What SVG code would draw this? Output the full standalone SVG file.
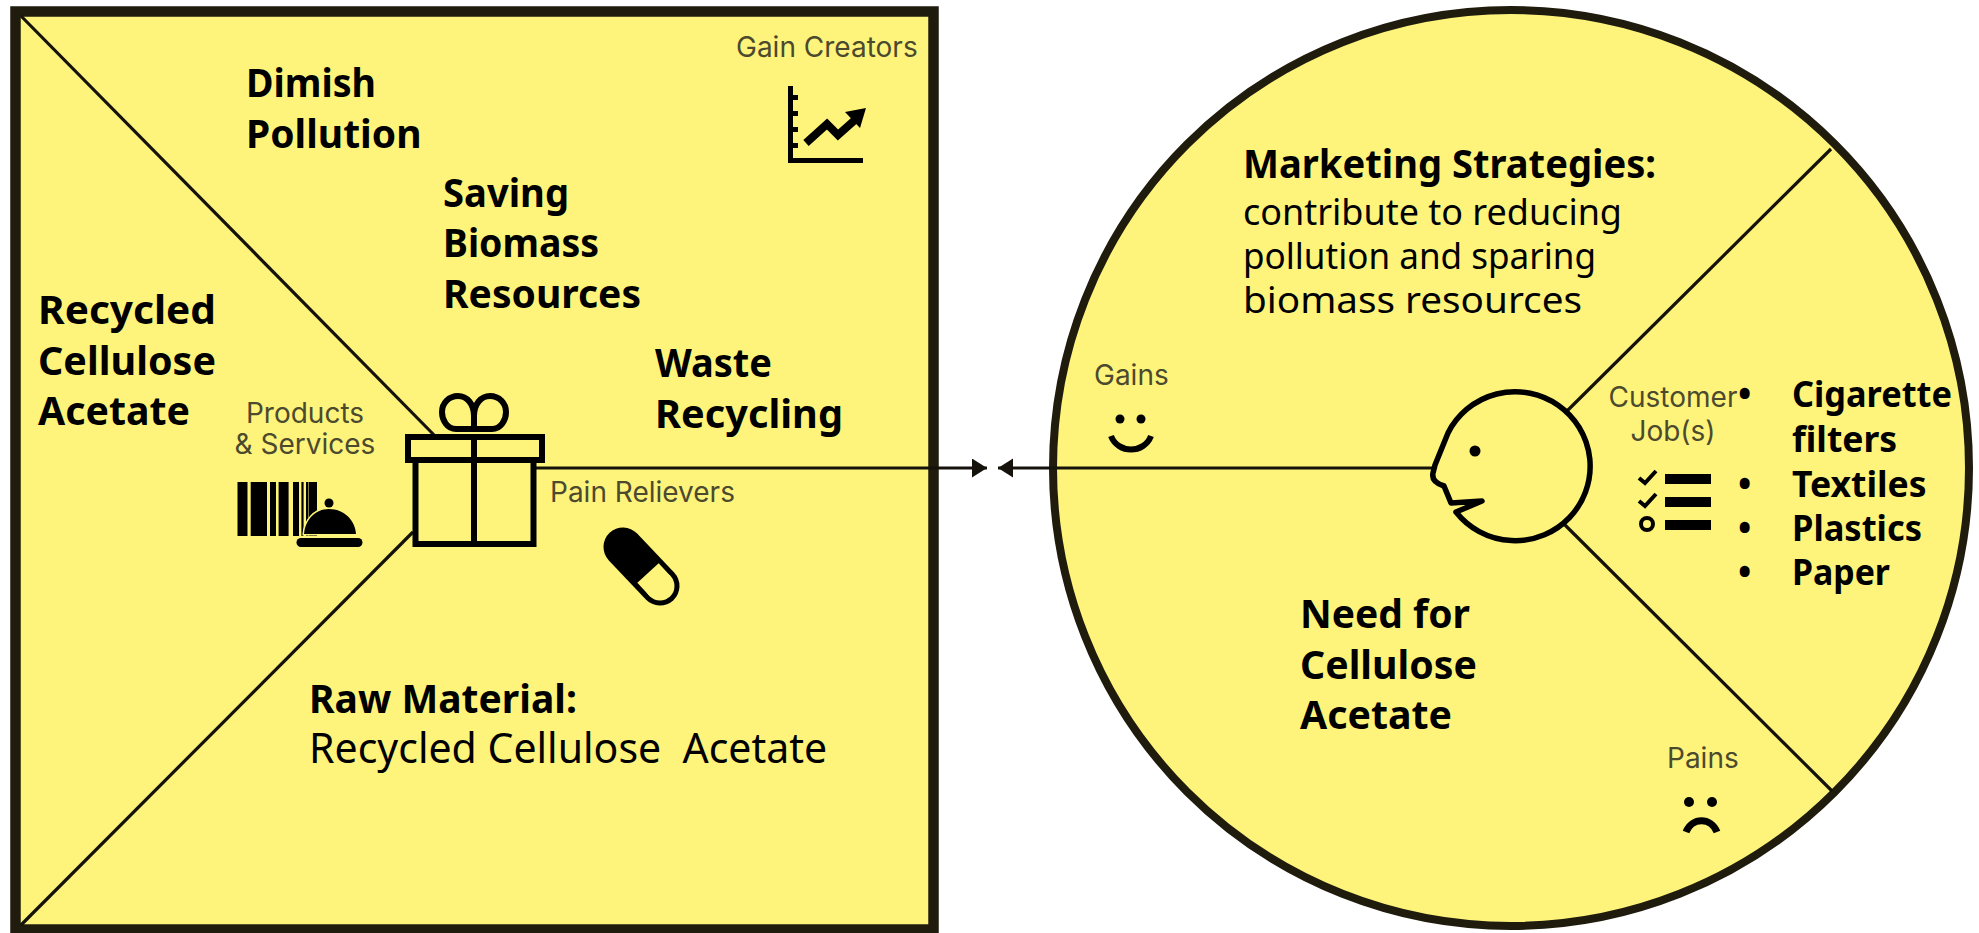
<svg xmlns="http://www.w3.org/2000/svg" width="1979" height="933" viewBox="0 0 1979 933">
<style>
.b{font:700 39px "Noto Sans","Liberation Sans",sans-serif;fill:#000}
.s{font:700 35.500px "Noto Sans","Liberation Sans",sans-serif;fill:#000}
.r{font:400 36px "Noto Sans","Liberation Sans",sans-serif;fill:#000}
.q{font:400 41px "Noto Sans","Liberation Sans",sans-serif;fill:#000}
.l{font:400 28px "Inter","Noto Sans",sans-serif;fill:#4c4a2e}
.m{text-anchor:middle}
.ln{fill:none;stroke:#14120a;stroke-width:3.200}
.ic{fill:none;stroke:#000;stroke-width:6}
.k{fill:#000}
</style>
<defs>
<marker id="ah" markerUnits="userSpaceOnUse" markerWidth="16" markerHeight="20" refX="15" refY="9.500" orient="auto"><path d="M0 0L15 9.500L0 19Z" fill="#14120a"/></marker>
</defs>
<rect width="1979" height="933" fill="#fff"/>
<g id="value-map">
<rect x="15.500" y="11.500" width="918" height="918" fill="#fef47b" stroke="#1f1c0e" stroke-width="10.500"/>
</g>
<g id="customer-profile">
<circle cx="1511" cy="468" r="458" fill="#fef47b" stroke="#1f1c0e" stroke-width="8"/>
</g>
<g id="connectors">
<path class="ln" d="M21 16L438 439"/>
<path class="ln" d="M21 925L413 532"/>
<path class="ln" d="M536 468H934"/>
<path class="ln" d="M934 468H987" marker-end="url(#ah)"/>
<path class="ln" d="M1053 468H998" marker-end="url(#ah)"/>
<path class="ln" d="M1053 468H1434"/>
<path class="ln" d="M1565 413L1831 149"/>
<path class="ln" d="M1565 525L1832 791"/>
</g>
<g id="gift-icon">
<path class="ic" d="M474 429H456C447 429 442 420 442 412C442 403 449 396 458 396C467 396 474 404 474 416V429H492C501 429 506 420 506 412C506 403 499 396 490 396C481 396 474 404 474 416"/>
<rect x="408" y="437" width="134" height="23" fill="#fef47b" stroke="#000" stroke-width="6"/>
<rect x="415.500" y="460" width="118" height="84" fill="#fef47b" stroke="#000" stroke-width="6"/>
<path class="ic" d="M474 434V544"/>
</g>
<g id="products-services">
<text class="l m" x="305" y="423">Products</text>
<text class="l m" x="305" y="454">&amp; Services</text>
<path class="k" d="M237.500 482h10v54h-10zM250.700 482h16.300v54h-16.300zM270 482h6v54h-6zM278.600 482h10v54h-10zM293 482h6v54h-6zM301.400 482h2.200v54h-2.200zM306 482h2.500v54h-2.500zM309 482h8v54h-8z"/>
<path class="k" d="M304 534C305 520 315 509 329 509C344 509 355 520 356 534Z" stroke="#fef47b" stroke-width="3" paint-order="stroke"/>
<circle class="k" cx="329" cy="503" r="4.500"/>
<rect class="k" x="296.500" y="538" width="66" height="9" rx="4.500"/>
</g>
<g id="pain-relievers">
<text class="l" x="550" y="502">Pain Relievers</text>
<path d="M623 547L660 586" stroke="#000" stroke-width="39" stroke-linecap="round" fill="none"/>
<path d="M648 573L660 586" stroke="#fef47b" stroke-width="29" fill="none"/>
<circle cx="660" cy="586" r="14.500" fill="#fef47b"/>
</g>
<g id="gain-creators">
<text class="l" x="736" y="57">Gain Creators</text>
<path class="k" d="M788 86h5v9h5v5h-5v11h5v5h-5v11h5v5h-5v11h5v5h-5v10h70v5h-75z"/>
<path class="ic" style="stroke-width:8" d="M806 143L827 124L838 135L856 119"/>
<path class="k" d="M845 112L866 108L860 128Z"/>
</g>
<g id="gains">
<text class="l" x="1094" y="385">Gains</text>
<circle class="k" cx="1120" cy="419" r="4.500"/>
<circle class="k" cx="1141" cy="419" r="4.500"/>
<path class="ic" d="M1111 436C1118 454 1144 454 1151 436"/>
</g>
<g id="pains">
<text class="l" x="1667" y="768">Pains</text>
<circle class="k" cx="1689" cy="802" r="5"/>
<circle class="k" cx="1712" cy="802" r="5"/>
<path class="ic" style="stroke-width:7" d="M1686 832C1692 817 1711 817 1717 832"/>
</g>
<g id="customer-head">
<path fill="#fef47b" stroke="#000" stroke-width="5.500" stroke-linejoin="round" d="M1448 433A75 74.500 0 1 1 1456 512L1482 501L1451 503L1444 486Q1431 482 1433 473L1435 465Z"/>
<circle class="k" cx="1475" cy="451" r="5.500"/>
</g>
<g id="customer-jobs">
<text class="l m" x="1673" y="407">Customer</text>
<text class="l m" x="1673" y="441">Job(s)</text>
<path class="ic" style="stroke-width:4" d="M1639 478L1645 483L1656 471M1639 501L1645 506L1656 494"/>
<circle class="ic" style="stroke-width:4" cx="1647" cy="524" r="6"/>
<path class="k" d="M1665 474h46v10h-46zM1665 497h46v10h-46zM1665 520h46v10h-46z"/>
</g>
<g id="texts">
<text class="b" x="246" y="97" textLength="130" lengthAdjust="spacingAndGlyphs">Dimish</text>
<text class="b" x="246" y="148">Pollution</text>
<text class="b" x="443" y="207" textLength="126" lengthAdjust="spacingAndGlyphs">Saving</text>
<text class="b" x="443" y="257" textLength="156" lengthAdjust="spacingAndGlyphs">Biomass</text>
<text class="b" x="443" y="308" textLength="198" lengthAdjust="spacingAndGlyphs">Resources</text>
<text class="b" x="38" y="324" textLength="178" lengthAdjust="spacingAndGlyphs">Recycled</text>
<text class="b" x="38" y="375" textLength="178" lengthAdjust="spacingAndGlyphs">Cellulose</text>
<text class="b" x="38" y="425" textLength="152" lengthAdjust="spacingAndGlyphs">Acetate</text>
<text class="b" x="655" y="377" textLength="117" lengthAdjust="spacingAndGlyphs">Waste</text>
<text class="b" x="655" y="428" textLength="188" lengthAdjust="spacingAndGlyphs">Recycling</text>
<text class="b" x="309" y="713">Raw Material:</text>
<text class="q" x="309" y="763" xml:space="preserve">Recycled Cellulose  Acetate</text>
<text class="b" x="1243" y="178" textLength="413" lengthAdjust="spacingAndGlyphs">Marketing Strategies:</text>
<text class="r" x="1243" y="225" textLength="379" lengthAdjust="spacingAndGlyphs">contribute to reducing</text>
<text class="r" x="1243" y="269" textLength="353" lengthAdjust="spacingAndGlyphs">pollution and sparing</text>
<text class="r" x="1243" y="313" textLength="339" lengthAdjust="spacingAndGlyphs">biomass resources</text>
<text class="b" x="1300" y="628">Need for</text>
<text class="b" x="1300" y="679" textLength="177" lengthAdjust="spacingAndGlyphs">Cellulose</text>
<text class="b" x="1300" y="729" textLength="152" lengthAdjust="spacingAndGlyphs">Acetate</text>
<text class="s" x="1738" y="407">•</text>
<text class="s" x="1792" y="407" textLength="160" lengthAdjust="spacingAndGlyphs">Cigarette</text>
<text class="s" x="1792" y="452">filters</text>
<text class="s" x="1738" y="497">•</text>
<text class="s" x="1792" y="497">Textiles</text>
<text class="s" x="1738" y="541">•</text>
<text class="s" x="1792" y="541" textLength="130" lengthAdjust="spacingAndGlyphs">Plastics</text>
<text class="s" x="1738" y="585">•</text>
<text class="s" x="1792" y="585" textLength="98" lengthAdjust="spacingAndGlyphs">Paper</text>
</g>
</svg>
